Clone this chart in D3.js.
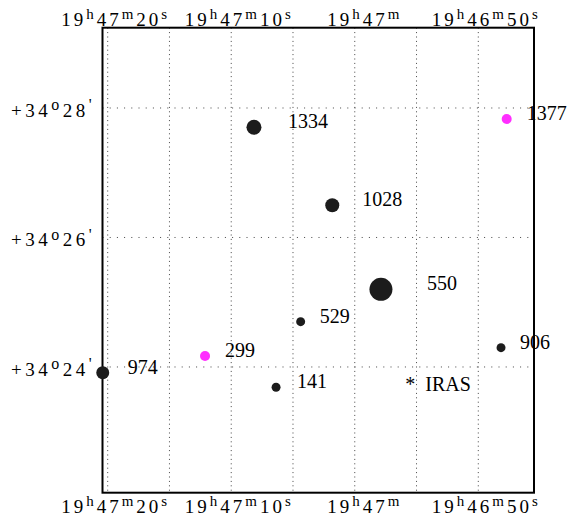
<!DOCTYPE html>
<html>
<head>
<meta charset="utf-8">
<script src="https://cdn.jsdelivr.net/npm/d3@7"></script>
<style>
  body { margin: 0; background: #fff; }
  svg { display: block; }
</style>
</head>
<body>
<div id="chart"></div>
<script>
// Source names and positions: RA in seconds after 19h46m, Dec in arcsec after +34 deg
var names = ["1334", "1028", "550", "529", "299", "141", "906", "1377", "974"];
var raSec = [68.16, 61.82, 57.88, 64.38, 72.12, 66.37, 48.16, 47.7, 80.40];
var decSec = [1662.1, 1589.8, 1512.0, 1482.0, 1450.2, 1421.2, 1457.9, 1669.8, 1434.7];
// relative brightness (drives dot area)
var brightness = [56, 49, 132, 20, 25, 20, 20, 25, 42];
var kind = ["a", "a", "a", "a", "b", "a", "a", "b", "a"];

// IRAS source
var irasRa = 55.5, irasDec = 1425.2;

// grid / tick values
var raGrid = [50, 55, 60, 65, 70, 75, 80];
var raTicks = [80, 70, 60, 50];
var raTickLabels = [
  ["19", "h", "47", "m", "20", "s"],
  ["19", "h", "47", "m", "10", "s"],
  ["19", "h", "47", "m"],
  ["19", "h", "46", "m", "50", "s"]
];
var decTicks = [1680, 1560, 1440];
var decTickLabels = [
  ["+34", "o", "28", "'"],
  ["+34", "o", "26", "'"],
  ["+34", "o", "24", "'"]
];

var margin = {top: 27.7, left: 102.5, right: 33, bottom: 24.3},
    W = 567, H = 517,
    width = W - margin.left - margin.right,
    height = H - margin.top - margin.bottom;

var svg = d3.select("#chart").append("svg")
  .attr("width", W)
  .attr("height", H)
  .style("font-family", "'Liberation Serif', 'Times New Roman', serif");

// RA grows to the left
var x = d3.scaleLinear().domain([80.42, 45.49]).range([0, width]);
var y = d3.scaleLinear().domain([1754.4, 1323.5]).range([0, height]);
var r = d3.scaleSqrt().domain([0, 132]).range([0, 11.5]);
var color = d3.scaleOrdinal().domain(["a", "b"]).range(["#1c1c1c", "#ff2eff"]);

var g = svg.append("g").attr("transform", "translate(" + margin.left + "," + margin.top + ")");

// dotted grid
g.append("g").selectAll("line")
  .data(raGrid)
  .enter().append("line")
    .attr("x1", function(d) { return x(d); })
    .attr("x2", function(d) { return x(d); })
    .attr("y1", 0)
    .attr("y2", height)
    .attr("stroke", "#444")
    .attr("stroke-width", 1)
    .attr("stroke-dasharray", "1,3.4");

g.append("g").selectAll("line")
  .data(decTicks)
  .enter().append("line")
    .attr("x1", 0)
    .attr("x2", width)
    .attr("y1", function(d) { return y(d); })
    .attr("y2", function(d) { return y(d); })
    .attr("stroke", "#444")
    .attr("stroke-width", 1)
    .attr("stroke-dasharray", "1,6.2");

// frame
g.append("rect")
  .attr("width", width)
  .attr("height", height)
  .attr("fill", "none")
  .attr("stroke", "#000")
  .attr("stroke-width", 2);

// tick labels with superscripts
function ticklabel(sel, parts, supDy, supSize) {
  parts.forEach(function(p, i) {
    var sup = i % 2 == 1;
    sel.append("tspan")
      .attr("font-size", sup ? supSize : 19)
      .attr("dy", i == 0 ? 0 : (sup ? supDy : -supDy))
      .text(p);
  });
}

[-margin.top + 26, height + 20.3].forEach(function(yy) {
  raTicks.forEach(function(t, i) {
    var txt = g.append("text")
      .attr("x", x(t) + (raTickLabels[i].length == 4 ? 10 : 8))
      .attr("y", yy)
      .attr("text-anchor", "middle")
      .attr("letter-spacing", 3)
      .attr("fill", "#000");
    ticklabel(txt, raTickLabels[i], -7, 15);
  });
});

decTicks.forEach(function(t, i) {
  var txt = svg.append("text")
    .attr("x", 11)
    .attr("y", margin.top + y(t) + 8.7)
    .attr("letter-spacing", 3.5)
    .attr("fill", "#000");
  ticklabel(txt, decTickLabels[i], -6.5, 16);
});

// sources
var labelDx = [34, 30, 46, 19, 20, 21, 19, 20, 25];

var pts = names.map(function(n, i) {
  return {name: n, ra: raSec[i], dec: decSec[i], b: brightness[i], k: kind[i], dx: labelDx[i]};
});

g.append("g").selectAll("circle")
  .data(pts)
  .enter().append("circle")
    .attr("cx", function(d) { return x(d.ra); })
    .attr("cy", function(d) { return y(d.dec); })
    .attr("r", function(d) { return r(d.b); })
    .attr("fill", function(d) { return color(d.k); });

g.append("g").selectAll("text")
  .data(pts)
  .enter().append("text")
    .attr("x", function(d) { return x(d.ra) + d.dx; })
    .attr("y", function(d) { return y(d.dec) + 1; })
    .attr("font-size", 20)
    .attr("fill", "#000")
    .text(function(d) { return d.name; });

// IRAS marker
g.append("text")
  .attr("x", x(irasRa))
  .attr("y", y(irasDec) + 8)
  .attr("text-anchor", "middle")
  .attr("font-size", 20)
  .text("*");
g.append("text")
  .attr("x", x(irasRa) + 15)
  .attr("y", y(irasDec) + 8)
  .attr("font-size", 20)
  .text("IRAS");
</script>
</body>
</html>
